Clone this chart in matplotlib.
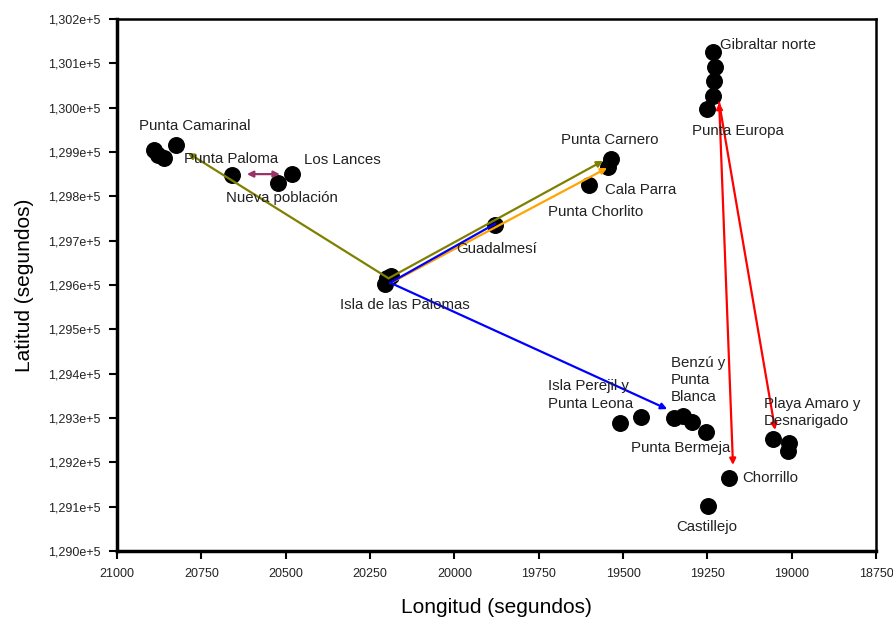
import matplotlib
matplotlib.use("Agg")
import matplotlib.pyplot as plt
from matplotlib.ticker import FuncFormatter, MultipleLocator

plt.rcParams['font.family'] = ['Liberation Sans', 'DejaVu Sans']

# station coordinates (seconds)
lon = [20890, 20878, 20861, 20825,          # Punta Camarinal
       20659, 20523, 20481,                 # Paloma, Nueva poblacion, Los Lances
       20200, 20205, 20188,                 # Isla de las Palomas
       19879,                               # Guadalmesi
       19535, 19544, 19601,                 # Carnero, Cala Parra
       19233, 19227, 19230, 19233, 19251,   # Gibraltar
       19509, 19447, 19349, 19322, 19295, 19254,
       19186, 19248,                        # Chorrillo, Castillejo
       19055, 19008, 19011]                 # Playa Amaro
lat = [129904, 129893, 129886, 129916,
       129848, 129830, 129850,
       129616, 129602, 129620,
       129735,
       129884, 129866, 129826,
       130126, 130092, 130060, 130026, 129997,
       129289, 129302, 129300, 129304, 129291, 129268,
       129165, 129101,
       129253, 129244, 129225]

# arrows: start lon, start lat, end lon, end lat
olive_from = [(20195, 129615), (20195, 129615)]
olive_to = [(20790, 129898), (19559, 129880)]
orange_from = [(20190, 129604)]
orange_to = [(19547, 129864)]
blue_from = [(20190, 129605)]
blue_to = [(19369, 129320)]
blue_line = [(20190, 129605), (19879, 129738)]
purple_pair = [(20615, 129850), (20517, 129850)]
red_top = (19215, 130011)
red_ends = [(19174, 129194), (19049, 129273)]

labels = [
    ("Punta Camarinal", 20935, 129959),
    ("Punta Paloma", 20801, 129884),
    ("Los Lances", 20446, 129882),
    ("Nueva población", 20677, 129796),
    ("Isla de las Palomas", 20339, 129555),
    ("Guadalmesí", 19995, 129681),
    ("Punta Carnero", 19684, 129927),
    ("Cala Parra", 19553, 129814),
    ("Punta Chorlito", 19722, 129765),
    ("Gibraltar norte", 19212, 130141),
    ("Punta Europa", 19295, 129947),
    ("Isla Perejil y\nPunta Leona", 19722, 129352),
    ("Benzú y\nPunta\nBlanca", 19358, 129386),
    ("Punta Bermeja", 19476, 129232),
    ("Playa Amaro y\nDesnarigado", 19082, 129313),
    ("Chorrillo", 19147, 129165),
    ("Castillejo", 19343, 129054),
]

fig = plt.figure(figsize=(8.93, 6.23), dpi=100)
ax = fig.add_axes([0.131, 0.1156, 0.85, 0.854])

ax.scatter(lon, lat, s=125, color='black', zorder=3)


def arrow(p0, p1, color, style='-|>'):
    ax.annotate('', xy=p1, xytext=p0,
                arrowprops=dict(arrowstyle=style, color=color, lw=1.6,
                                mutation_scale=9, shrinkA=0, shrinkB=0),
                zorder=4)


for a, b in zip(olive_from, olive_to):
    arrow(a, b, '#808000')
for a, b in zip(orange_from, orange_to):
    arrow(a, b, '#FFA500')
ax.plot([p[0] for p in blue_line], [p[1] for p in blue_line], color='#0000FF', lw=1.6, zorder=4)
for a, b in zip(blue_from, blue_to):
    arrow(a, b, '#0000FF')
arrow(purple_pair[0], purple_pair[1], '#993366', '<|-|>')
arrow(red_ends[0], red_top, '#FF0000', '<|-|>')
arrow(red_top, red_ends[1], '#FF0000')

for txt, x, y in labels:
    ax.text(x, y, txt, fontsize=10.8, color='#222222', ha='left', va='center',
            linespacing=1.3, zorder=5)

ax.set_xlim(21000, 18750)
ax.set_ylim(129000, 130200)
ax.xaxis.set_major_locator(MultipleLocator(250))
ax.yaxis.set_major_locator(MultipleLocator(100))
ax.yaxis.set_major_formatter(FuncFormatter(
    lambda v, p: f"{v/1e5:.3f}".replace('.', ',') + "e+5"))
ax.tick_params(direction='out', length=6, width=1.5, labelsize=9, labelcolor='#222222')
ax.tick_params(axis='x', pad=6)
ax.tick_params(axis='y', pad=6)

for side in ['left', 'bottom']:
    ax.spines[side].set_linewidth(2.5)
for side in ['top', 'right']:
    ax.spines[side].set_linewidth(1.8)

ax.set_xlabel("Longitud (segundos)", fontsize=15, labelpad=13)
ax.set_ylabel("Latitud (segundos)", fontsize=15, labelpad=10)

fig.savefig("out.png", dpi=100)
